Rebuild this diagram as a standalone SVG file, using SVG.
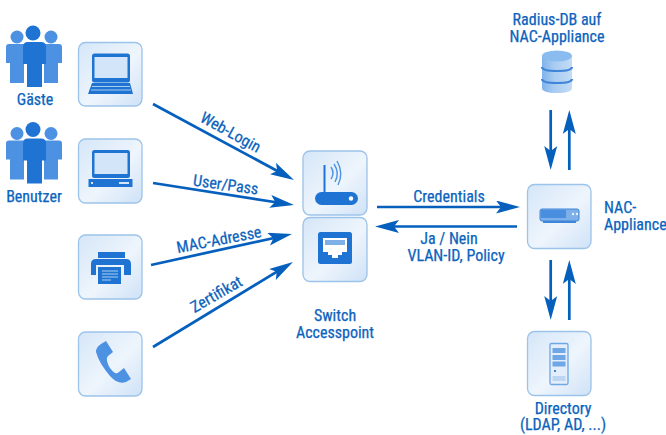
<svg xmlns="http://www.w3.org/2000/svg" width="666" height="435" viewBox="0 0 666 435">
<style>
.t{font-family:"Liberation Sans Narrow","Roboto Condensed","Liberation Sans",sans-serif;font-size:16px;fill:#0b63bd;stroke:#0b63bd;stroke-width:.25;text-anchor:middle}
.tile{fill:url(#tg);stroke:#9cc3ea;stroke-width:1.3}
.c{stroke:#0560bd;stroke-width:2.7;fill:none;marker-end:url(#ah)}
.d{fill:#1f74d3}
.l{fill:#d3e5f8}
.b{fill:#4d92e2}
</style>
<defs>
<linearGradient id="tg" x1="0" y1="0" x2="1" y2="1"><stop offset="0" stop-color="#d5e6f8"/><stop offset=".55" stop-color="#eef5fc"/><stop offset="1" stop-color="#cfe2f7"/></linearGradient>
<linearGradient id="db" x1="0" y1="0" x2="1" y2="0"><stop offset="0" stop-color="#7fb3ea"/><stop offset=".4" stop-color="#a9ccf2"/><stop offset="1" stop-color="#c4dcf6"/></linearGradient>
<marker id="ah" markerUnits="userSpaceOnUse" markerWidth="26" markerHeight="14" refX="14" refY="6.500" orient="auto"><path d="M0 0L24 6.500L0 13L5 6.500Z" fill="#0560bd"/></marker>
<g id="people">
<circle cx="17" cy="17" r="6.500" class="b"/><circle cx="51" cy="17" r="6.500" class="b"/>
<path class="b" d="M9 24H24V63H10V43H6V27Q6 24 9 24Z"/>
<path class="b" d="M44 24H59Q62 24 62 27V43H58V63H44Z"/>
<circle cx="33" cy="13" r="7.500" class="d"/>
<path class="d" d="M28 22H41Q46 22 46 27V44H42V67H27V44H23V27Q23 22 28 22Z"/>
</g>
</defs>
<g id="connectors">
<path class="c" d="M153 104L285.200 175.200"/>
<path class="c" d="M153 183L284.100 203.500"/>
<path class="c" d="M151 265L282.200 236.200"/>
<path class="c" d="M153 347L284.400 267.200"/>
<path class="c" d="M377 207L510 207"/>
<path class="c" d="M517 226.500L385 226.500"/>
<path class="c" d="M550.700 110L550.700 160"/>
<path class="c" d="M569.300 170L569.300 120"/>
<path class="c" d="M550.700 260L550.700 310"/>
<path class="c" d="M569.300 320L569.300 270"/>
</g>
<g id="connector-labels">
<text class="t" transform="translate(228 137) rotate(29)">Web-Login</text>
<text class="t" transform="translate(225 190) rotate(8)">User/Pass</text>
<text class="t" transform="translate(220 245) rotate(-11)">MAC-Adresse</text>
<text class="t" transform="translate(219 299) rotate(-30)">Zertifikat</text>
<text class="t" x="449" y="202">Credentials</text>
<text class="t"><tspan x="449" y="244">Ja / Nein</tspan><tspan x="456" y="261">VLAN-ID, Policy</tspan></text>
</g>
<g id="gaeste"><use href="#people" y="20"/><text class="t" x="35" y="105">Gäste</text></g>
<g id="benutzer"><use href="#people" y="116.500"/><text class="t" x="34" y="202">Benutzer</text></g>
<g id="laptop"><rect class="tile" x="78.500" y="42.500" width="63.500" height="63.500" rx="7"/>
<rect x="92" y="53.500" width="38" height="29" rx="2.500" class="d"/><rect x="94.500" y="57" width="33" height="21" class="l"/>
<path class="d" d="M92 83H130L133 94H88Z"/><path d="M92 86.500H130M91 90H131" stroke="#a9cdf3" stroke-width="1"/></g>
<g id="desktop"><rect class="tile" x="78.500" y="139" width="63.500" height="64" rx="7"/>
<rect x="92" y="150" width="38" height="28" rx="2.500" class="d"/><rect x="94.500" y="153" width="33" height="21" class="l"/>
<rect x="88.500" y="179" width="44" height="8" class="d"/><rect x="119" y="182" width="10" height="2" class="l"/><rect x="91" y="182" width="2" height="2" class="l"/></g>
<g id="printer"><rect class="tile" x="78.500" y="235" width="63.500" height="64" rx="7"/>
<rect x="98" y="252" width="27" height="6" class="d"/>
<path class="d" d="M96 259H126Q131 259 131 264V275H124V265H96V275H91V264Q91 259 96 259Z"/>
<rect x="98" y="267" width="23" height="17" class="d"/><path d="M102 271H118M102 274H118M102 277H118M102 280H111" stroke="#a9cdf3" stroke-width="1.100"/></g>
<g id="phone"><rect class="tile" x="78.500" y="332" width="63.500" height="64" rx="7"/>
<path class="b" d="M101 344L106 341L113 352L108 356Q106 358 107 361Q109 369 115 373Q117 374 119 372L124 368L131 379L126 382Q118 385 110 376Q99 363 96 352Q96 347 101 344Z"/></g>
<g id="router"><rect class="tile" x="303" y="151" width="64" height="64" rx="7"/>
<rect x="323.500" y="165" width="2" height="28" class="d"/>
<rect x="315" y="192" width="43" height="13" rx="6.500" class="d"/><circle cx="351" cy="198.500" r="2.200" fill="#fff"/>
<path d="M331 167Q335 173 331 179M334 164Q340 173 335 182M337 161Q344 173 338 185" fill="none" stroke="#4d92e2" stroke-width="1.400"/></g>
<g id="switch"><rect class="tile" x="303" y="217.500" width="64" height="64" rx="7"/>
<rect x="318" y="232" width="34" height="32" rx="2.500" class="d"/>
<path fill="#fff" d="M323 238H347V252H342V255H338V258H332V255H328V252H323Z"/>
<path d="M325 240H345V245H325Z" fill="#7fb0e8"/></g>
<g id="radius-db"><path fill="url(#db)" d="M542 56V88Q542 93 557 93Q572 93 572 88V56Z"/>
<ellipse cx="557" cy="56" rx="15" ry="5.500" fill="#8bbcef"/>
<path d="M542 67Q542 71 557 71Q572 71 572 67M542 79Q542 83 557 83Q572 83 572 79" fill="none" stroke="#3f86d8" stroke-width="2.200"/>
<text class="t"><tspan x="557" y="25">Radius-DB auf</tspan><tspan x="557" y="42">NAC-Appliance</tspan></text></g>
<g id="nac"><rect class="tile" x="527.500" y="184.500" width="63.500" height="64" rx="7"/>
<rect x="540" y="209" width="39" height="12" rx="2" fill="#7db0ea" stroke="#3f86d8"/><rect x="541" y="210" width="25" height="8" fill="#4a8fdf"/><path d="M543 221H576V223H543Z" fill="#3f86d8"/>
<circle cx="573" cy="214" r="1.200" fill="#e8f2fc"/><circle cx="577" cy="214" r="1.200" fill="#e8f2fc"/>
<text class="t" style="text-anchor:start"><tspan x="604" y="213">NAC-</tspan><tspan x="604" y="230">Appliance</tspan></text></g>
<g id="directory"><rect class="tile" x="527.500" y="331.500" width="63.500" height="64" rx="7"/>
<rect x="550" y="343.500" width="18" height="41" rx="1.500" fill="#e3eefa" stroke="#6fa6e6" stroke-width="1.300"/>
<rect x="552.500" y="348" width="13" height="5" fill="#6fa6e6"/><rect x="552.500" y="355" width="13" height="5" fill="#6fa6e6"/><rect x="552.500" y="361.500" width="13" height="5" fill="#6fa6e6"/>
<rect x="554" y="370" width="2" height="2" fill="#3f86d8"/><rect x="552.500" y="376" width="13" height="5" fill="#bcd5f2"/>
<text class="t"><tspan x="563" y="414">Directory</tspan><tspan x="563" y="430">(LDAP, AD, ...)</tspan></text></g>
<g id="switch-label"><text class="t"><tspan x="335" y="321">Switch</tspan><tspan x="335" y="338">Accesspoint</tspan></text></g>
</svg>
